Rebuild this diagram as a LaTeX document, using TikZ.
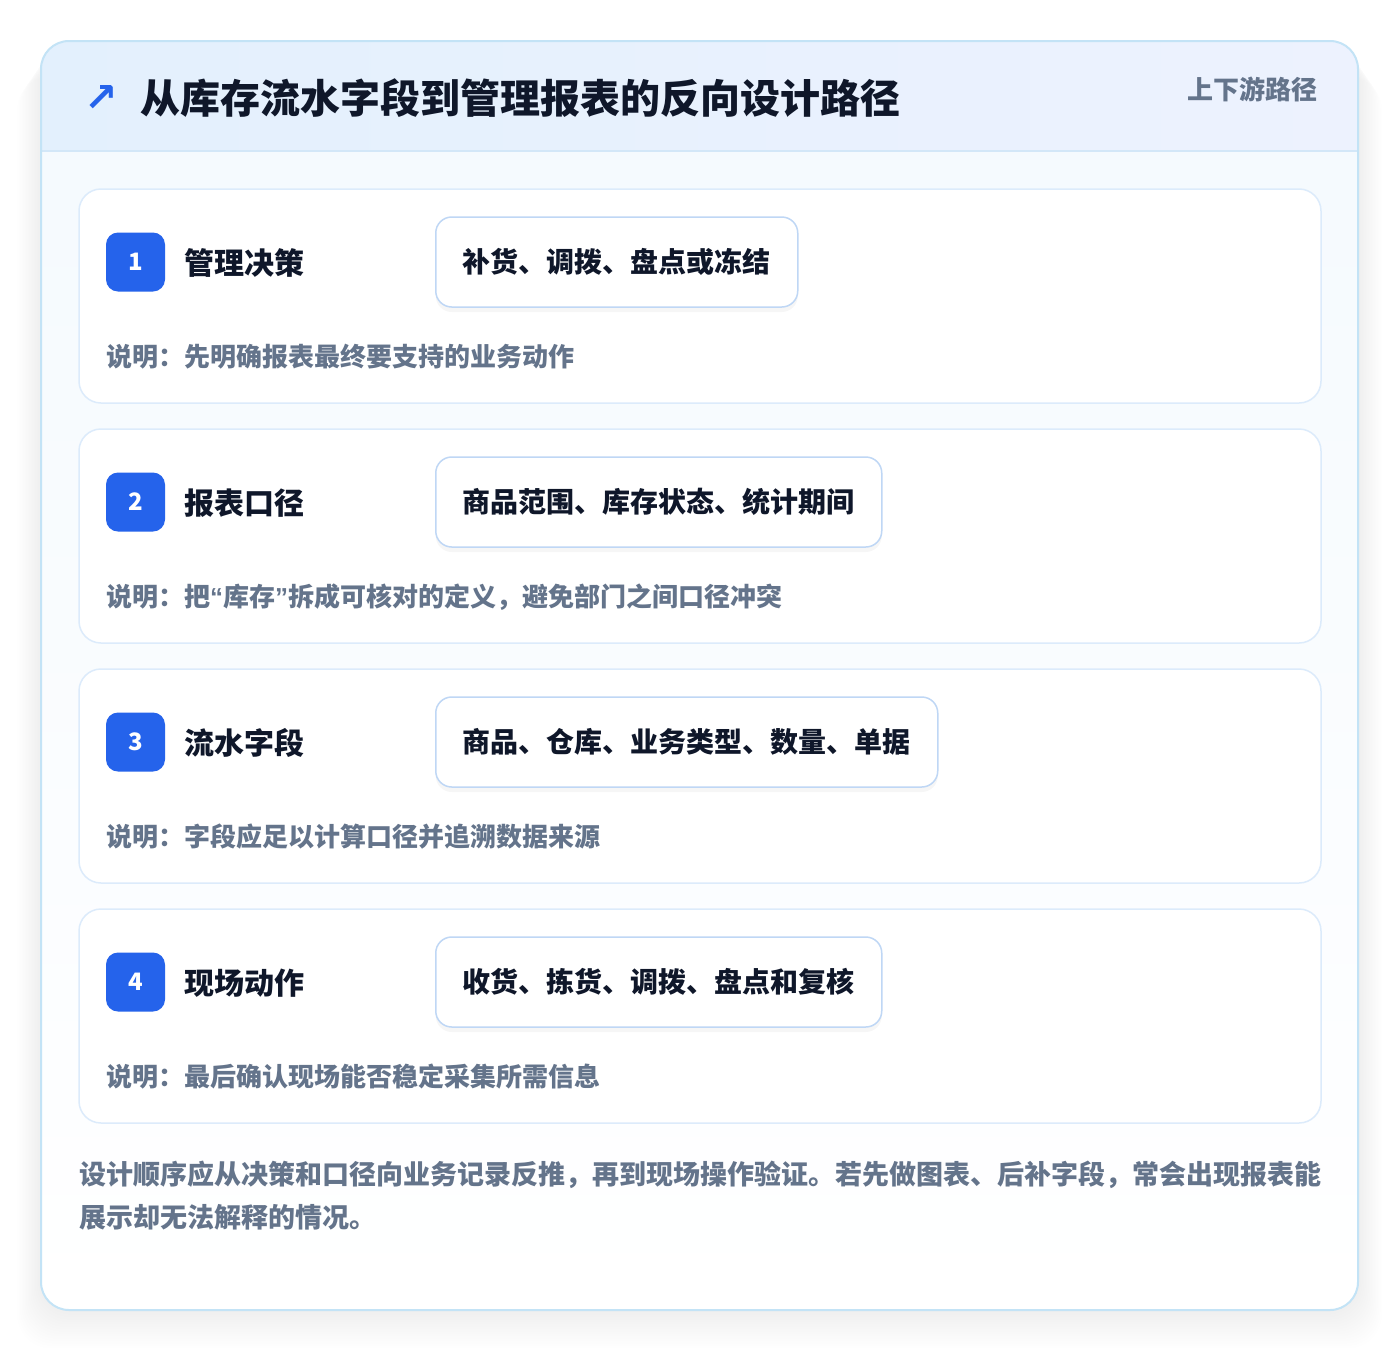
\documentclass[tikz,border=0pt]{standalone}
\usepackage{fontspec}
\usetikzlibrary{shadows}
\setmainfont{Noto Sans CJK SC}
\newfontfamily\symfont{DejaVu Sans}
\newfontfamily\quotefont{Liberation Sans}
\definecolor{pageBg}{HTML}{FFFFFF}
\definecolor{cardBorder}{HTML}{C3E3F6}
\definecolor{hdrA}{HTML}{E3F0FD}
\definecolor{hdrB}{HTML}{EDF2FE}
\definecolor{hdrLine}{HTML}{D3E7F8}
\definecolor{stepBorder}{HTML}{DCEBFB}
\definecolor{tagBorder}{HTML}{BFD7F5}
\definecolor{badgeBlue}{HTML}{2563EB}
\definecolor{inkDark}{HTML}{0F172A}
\definecolor{inkGray}{HTML}{64748B}
\definecolor{bodyBg}{HTML}{F5FAFE}
\begin{document}
\begin{tikzpicture}[x=1pt,y=-1pt,
  stepcard/.style={draw=stepBorder,line width=1.5pt,fill=white,rounded corners=22pt,minimum width=1242pt,minimum height=214pt,inner sep=0pt},
  badge/.style={fill=badgeBlue,rounded corners=12pt,minimum width=59pt,minimum height=59pt,inner sep=0pt,text=white,font=\fontsize{24}{24}\selectfont\bfseries},
  steptitle/.style={anchor=west,inner sep=0pt,text=inkDark,font=\fontsize{30}{30}\selectfont\bfseries},
  tagbox/.style={anchor=west,draw=tagBorder,line width=1.5pt,fill=white,rounded corners=16pt,minimum height=90pt,inner xsep=27pt,inner ysep=0pt,text=inkDark,font=\fontsize{28}{28}\selectfont\bfseries},
  desc/.style={anchor=west,inner sep=0pt,text=inkGray,font=\fontsize{26}{26}\selectfont\bfseries},
  foot/.style={anchor=west,inner sep=0pt,text=inkGray,font=\fontsize{27}{27}\selectfont\bfseries},
  shadowlayer/.style={fill=black,opacity=0.0055,rounded corners=34pt}
]
\useasboundingbox (0,0) rectangle (1400,1352);
\fill[pageBg] (0,0) rectangle (1400,1352);
% outer shadow
\foreach \i in {1,...,16}{
  \pgfmathsetmacro\xa{41-\i*1.5}
  \pgfmathsetmacro\ya{41+\i*2.2}
  \pgfmathsetmacro\xb{1358+\i*1.5}
  \pgfmathsetmacro\yb{1310+\i*2.4}
  \fill[shadowlayer] (\xa,\ya) rectangle (\xb,\yb);
}
% outer card
\begin{scope}
\clip[rounded corners=28pt] (41,41) rectangle (1358,1310);
\shade[left color=hdrA,right color=hdrB] (41,41) rectangle (1358,151);
\shade[top color=bodyBg,bottom color=white] (41,151) rectangle (1358,1310);
\end{scope}
\draw[hdrLine,line width=1.5pt] (41,151) -- (1358,151);
\draw[cardBorder,line width=2pt,rounded corners=28pt] (41,41) rectangle (1358,1310);
% header
\node[anchor=center,inner sep=0pt,text=badgeBlue,font=\symfont\bfseries\fontsize{40}{40}\selectfont] (arrow) at (101,98) {↗};
\node[anchor=west,inner sep=0pt,text=inkDark,font=\fontsize{40}{40}\selectfont\bfseries] (title) at (140,98) {从库存流水字段到管理报表的反向设计路径};
\node[anchor=east,inner sep=0pt,text=inkGray,font=\fontsize{26}{26}\selectfont\bfseries] (sub) at (1318,89) {上下游路径};
% steps
\foreach \n/\cy/\t/\tag/\d in {
  1/296/管理决策/{补货、调拨、盘点或冻结}/{说明：先明确报表最终要支持的业务动作},
  2/536/报表口径/{商品范围、库存状态、统计期间}/{说明：把{\quotefont\bfseries “}库存{\quotefont\bfseries ”}拆成可核对的定义，避免部门之间口径冲突},
  3/776/流水字段/{商品、仓库、业务类型、数量、单据}/{说明：字段应足以计算口径并追溯数据来源},
  4/1016/现场动作/{收货、拣货、调拨、盘点和复核}/{说明：最后确认现场能否稳定采集所需信息}}{
  \node[stepcard] (card\n) at (700,\cy) {};
  \node[badge] (badge\n) at (135.5,\cy-34) {\n};
  \node[steptitle] (title\n) at (184,\cy-33) {\t};
  \node[tagbox,drop shadow={shadow xshift=0pt,shadow yshift=-5pt,opacity=0.035,fill=black}] (tag\n) at (435,\cy-34) {\tag};
  \node[desc] (desc\n) at (106,\cy+61) {\d};
}
% footer
\node[foot] (foot1) at (79,1175) {设计顺序应从决策和口径向业务记录反推，再到现场操作验证。若先做图表、后补字段，常会出现报表能};
\node[foot] (foot2) at (79,1217) {展示却无法解释的情况。};
\end{tikzpicture}
\end{document}
